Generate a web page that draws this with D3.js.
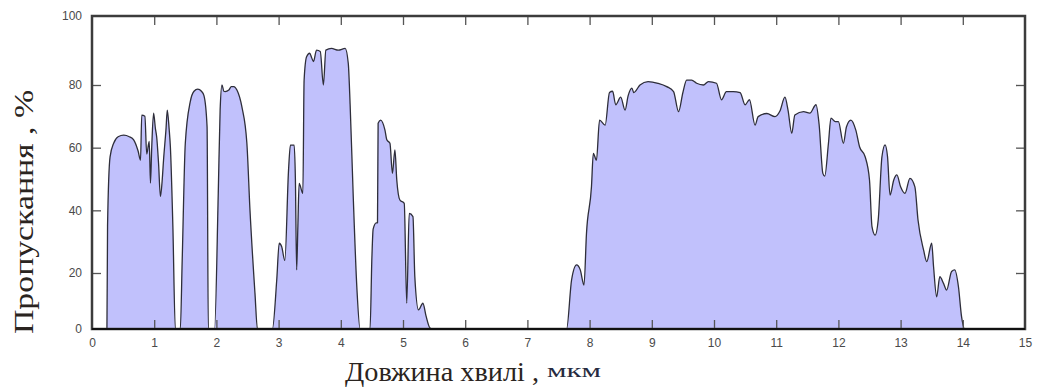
<!DOCTYPE html>
<html>
<head>
<meta charset="utf-8">
<script src="https://cdn.jsdelivr.net/npm/d3@7/dist/d3.min.js"></script>
<style>
  html, body { margin: 0; padding: 0; background: #fff; }
  svg { display: block; }
</style>
</head>
<body>
<svg id="chart" width="1037" height="392"></svg>
<script>
// ---- data ----
const wavelength = [
  0.0, 0.24, 0.25, 0.29, 0.35, 0.42, 0.51, 0.60, 0.67, 0.74, 0.78, 0.80, 0.85, 0.88, 0.92, 0.94, 0.96, 0.99,
  1.02, 1.04, 1.07, 1.10, 1.13, 1.15, 1.19, 1.21, 1.24, 1.26, 1.30, 1.34,
  1.42, 1.45, 1.50, 1.58, 1.64, 1.70, 1.76, 1.80, 1.85, 1.87,
  1.97, 2.03, 2.06, 2.09, 2.12, 2.14, 2.20, 2.24, 2.28, 2.33, 2.41, 2.49, 2.54, 2.62, 2.66,
  2.90, 2.97, 3.01, 3.05, 3.10, 3.16, 3.19, 3.25, 3.27, 3.29, 3.31, 3.33, 3.39, 3.41, 3.45, 3.50, 3.53, 3.56,
  3.61, 3.67, 3.72, 3.76, 3.85, 3.96, 4.07, 4.12, 4.15, 4.20, 4.26, 4.31,
  4.47, 4.50, 4.52, 4.57, 4.59, 4.60, 4.64, 4.71, 4.74, 4.79, 4.83, 4.87, 4.90, 4.95, 5.02, 5.06, 5.10,
  5.16, 5.19, 5.25, 5.32, 5.37, 5.43, 5.47,
  7.63, 7.71, 7.79, 7.85, 7.91, 7.95, 8.03, 8.06, 8.11, 8.16, 8.25, 8.32, 8.37, 8.42, 8.50, 8.57, 8.62,
  8.68, 8.71, 8.81, 8.94, 9.10, 9.24, 9.35, 9.43, 9.50, 9.56, 9.64, 9.72, 9.83, 9.91, 10.04, 10.12, 10.20,
  10.31, 10.42, 10.50, 10.57, 10.66, 10.71, 10.85, 10.98, 11.06, 11.14, 11.19, 11.25, 11.30, 11.44, 11.54,
  11.64, 11.69, 11.75, 11.78, 11.84, 11.88, 11.95, 12.00, 12.08, 12.13, 12.20, 12.28, 12.34, 12.43, 12.50,
  12.54, 12.59, 12.64, 12.70, 12.75, 12.79, 12.83, 12.89, 12.94, 13.00, 13.07, 13.15, 13.23, 13.28, 13.37,
  13.42, 13.50, 13.53, 13.58, 13.63, 13.69, 13.74, 13.82, 13.87, 13.93, 13.98, 14.03, 15.0
];
const transmission = [
  0, 0, 35, 57, 61.5, 63.5, 64, 63.5, 62.5, 59, 56, 70.4, 70, 58, 62, 48.7, 60, 71,
  66, 63.4, 55, 44.4, 50, 56, 66, 72, 66, 60.3, 35, 0,
  0, 24, 61.4, 74.7, 78, 78.7, 78, 76.6, 66.7, 0,
  0, 45.5, 72, 80, 78, 77.9, 78.4, 79.5, 79.5, 78.4, 73, 61.4, 40, 12.8, 0,
  0, 17.5, 29.5, 28.4, 24, 52.9, 60.8, 60.8, 50, 21, 35, 48.6, 45.4, 81.4, 88.2, 89.2, 88, 86.8,
  90.1, 89.7, 80, 90.1, 90.6, 90.1, 90.6, 86.3, 73.7, 44.4, 14, 0,
  0, 25, 34, 36, 36, 67.8, 68.8, 65.6, 62.5, 61.4, 51.8, 59.3, 49.7, 43.3, 42.2, 9.2, 39,
  38, 18.7, 6.8, 9.2, 4.7, 0.5, 0,
  0, 17.5, 22.6, 21, 15.7, 32.7, 47.5, 58.2, 56, 68.8, 67.2, 77.6, 78, 73.7, 76.1, 72, 76.6,
  79, 77.6, 80, 81, 80.5, 79.5, 77.9, 71.5, 77.6, 81.4, 81.4, 80.5, 80, 81, 80.5, 75.3, 77.9,
  77.9, 77.6, 73.7, 75.3, 67.2, 69.9, 70.9, 69.9, 71.7, 76.1, 72, 64.6, 70.4, 71.5, 71,
  73.7, 67.4, 51.8, 50.9, 61.4, 69.4, 68.3, 68.3, 61.4, 66.7, 68.8, 65.6, 60.3, 57.1, 49.7,
  34.8, 32.1, 36.9, 57.1, 60.9, 57.1, 44.9, 49.7, 51.3, 47.5, 45.4, 50.2, 47.5, 36.9, 27.3,
  23.6, 29.5, 22, 11.5, 18.7, 16.3, 13.9, 20.5, 21, 15.1, 4.4, 0, 0
];
const xTicks = [0, 1, 2, 3, 4, 5, 6, 7, 8, 9, 10, 11, 12, 13, 14, 15];
const yTicks = [0, 20, 40, 60, 80, 100];
const yTitle = "Пропускання , %";
const xTitleMain = "Довжина хвилі ,";
const xTitleUnit = "мкм";

// ---- layout ----
const svg = d3.select("#chart");
const L = 92, R = 1025, T = 16, B = 329;

const x = d3.scaleLinear().domain([0, 15]).range([L, R]);
// the reference's vertical axis is not evenly spaced near its ends
const y = d3.scaleLinear().domain([0, 20, 80, 100]).range([B, 273, 85, T]);

const pts = wavelength.map((w, i) => [w, transmission[i]]);

svg.append("clipPath").attr("id", "clip")
  .append("rect").attr("x", L).attr("y", T).attr("width", R - L).attr("height", B - T);

const g = svg.append("g").attr("clip-path", "url(#clip)");

const area = d3.area()
  .x(d => x(d[0])).y0(y(0)).y1(d => y(d[1]))
  .curve(d3.curveMonotoneX);
const line = d3.line()
  .x(d => x(d[0])).y(d => y(d[1]))
  .curve(d3.curveMonotoneX);

g.append("path").datum(pts).attr("d", area).attr("fill", "#c1c1fc");
g.append("path").datum(pts).attr("d", line)
  .attr("fill", "none").attr("stroke", "#2e2e3a").attr("stroke-width", 1.3)
  .attr("stroke-linejoin", "round");

// ---- axes (inward ticks on all four sides) ----
const tickLen = 9;
const axisStyle = sel => {
  sel.select(".domain").remove();
  sel.selectAll(".tick line").attr("stroke", "#555").attr("stroke-width", 1.3);
  sel.selectAll(".tick text").attr("fill", "#4a4a4a")
    .style("font-family", "'Liberation Sans', Arial, sans-serif").style("font-size", "12px");
};

const innerX = xTicks.filter(v => v > 0 && v < 15);
const innerY = yTicks.filter(v => v > 0 && v < 100);

// bottom: labels + inward ticks
svg.append("g").attr("transform", `translate(0,${B})`)
  .call(d3.axisBottom(x).tickValues(xTicks).tickFormat(d3.format("d")).tickSizeInner(0).tickPadding(9))
  .call(axisStyle);
svg.append("g").attr("transform", `translate(0,${B})`)
  .call(d3.axisTop(x).tickValues(innerX).tickSize(tickLen).tickFormat(""))
  .call(axisStyle);
// top inward ticks
svg.append("g").attr("transform", `translate(0,${T})`)
  .call(d3.axisBottom(x).tickValues(innerX).tickSize(tickLen).tickFormat(""))
  .call(axisStyle);
// left: labels + inward ticks
svg.append("g").attr("transform", `translate(${L},0)`)
  .call(d3.axisLeft(y).tickValues(yTicks).tickFormat(d3.format("d")).tickSizeInner(0).tickPadding(10))
  .call(axisStyle);
svg.append("g").attr("transform", `translate(${L},0)`)
  .call(d3.axisRight(y).tickValues(innerY).tickSize(tickLen).tickFormat(""))
  .call(axisStyle);
// right inward ticks
svg.append("g").attr("transform", `translate(${R},0)`)
  .call(d3.axisLeft(y).tickValues(innerY).tickSize(tickLen).tickFormat(""))
  .call(axisStyle);

// frame
svg.append("rect").attr("x", L).attr("y", T).attr("width", R - L).attr("height", B - T)
  .attr("fill", "none").attr("stroke", "#3c3c3c").attr("stroke-width", 2.5);
svg.append("line").attr("x1", L).attr("x2", R).attr("y1", B).attr("y2", B)
  .attr("stroke", "#111").attr("stroke-width", 2.2);

// ---- titles (stretched lengthwise like the reference lettering) ----
const serif = "'Liberation Serif', 'Times New Roman', serif";
svg.append("text").attr("x", 345).attr("y", 381)
  .style("font-family", serif).style("font-size", "27px")
  .attr("fill", "#2a2420")
  .attr("textLength", 194).attr("lengthAdjust", "spacingAndGlyphs")
  .text(xTitleMain);
svg.append("text").attr("x", 547).attr("y", 377)
  .style("font-family", serif).style("font-size", "18px")
  .attr("fill", "#262b40")
  .attr("textLength", 54).attr("lengthAdjust", "spacingAndGlyphs")
  .text(xTitleUnit);

svg.append("text")
  .attr("transform", "translate(33,334) rotate(-90)")
  .attr("text-anchor", "start")
  .style("font-family", serif)
  .style("font-size", "27px")
  .attr("fill", "#2a2420")
  .attr("textLength", 244).attr("lengthAdjust", "spacingAndGlyphs")
  .text(yTitle);
</script>
</body>
</html>
